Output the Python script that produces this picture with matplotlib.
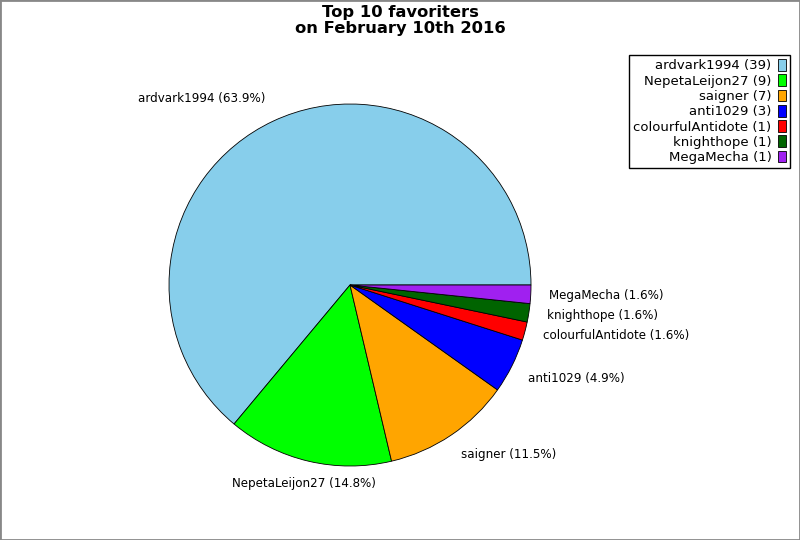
import matplotlib.pyplot as plt

names = ['ardvark1994', 'NepetaLeijon27', 'saigner', 'anti1029',
         'colourfulAntidote', 'knighthope', 'MegaMecha']
counts = [39, 9, 7, 3, 1, 1, 1]
colors = ['#87ceeb', '#00ff00', '#ffa500', '#0000ff', '#ff0000', '#006400', '#a020f0']

total = sum(counts)
pie_labels = ['%s (%.1f%%)' % (n, 100.0 * c / total) for n, c in zip(names, counts)]
legend_labels = ['%s (%d)' % (n, c) for n, c in zip(names, counts)]

fig = plt.figure(figsize=(8, 5.4), dpi=100)
ax = fig.add_axes([0.21125, 0.137, 0.4525, 0.6704])

wedges, texts = ax.pie(counts, labels=pie_labels, colors=colors, startangle=0,
                       counterclock=True, labeldistance=1.1,
                       wedgeprops=dict(edgecolor='black', linewidth=0.6),
                       textprops=dict(fontsize=8.6))
ax.set_xlim(-1, 1)
ax.set_ylim(-1, 1)
ax.set_aspect('equal')

# nudge a few labels to sit like the original
texts[0].set_va('bottom')
texts[1].set_ha('center')
for t in texts[1:4]:
    x, y = t.get_position()
    t.set_position((x, y - 0.025))

fig.text(0.501, 0.962, 'Top 10 favoriters\non February 10th 2016', ha='center', va='center',
         fontsize=11.8, fontweight='bold', linespacing=1.06)

leg = fig.legend(wedges, legend_labels, loc='upper right', bbox_to_anchor=(0.9875, 0.898),
                 borderaxespad=0, fontsize=9.5, markerfirst=False, fancybox=False,
                 handlelength=0.6, handleheight=1.0, handletextpad=0.5, labelspacing=0.14,
                 borderpad=0.3, edgecolor='black', framealpha=1)
leg.get_frame().set_linewidth(1.0)
for t in leg.get_texts():
    t.set_ha('right')

fig.patches.append(plt.Rectangle((0, 0), 1, 1, transform=fig.transFigure, fill=False,
                                 edgecolor='#888888', linewidth=2))

fig.savefig('out.png', dpi=100)
